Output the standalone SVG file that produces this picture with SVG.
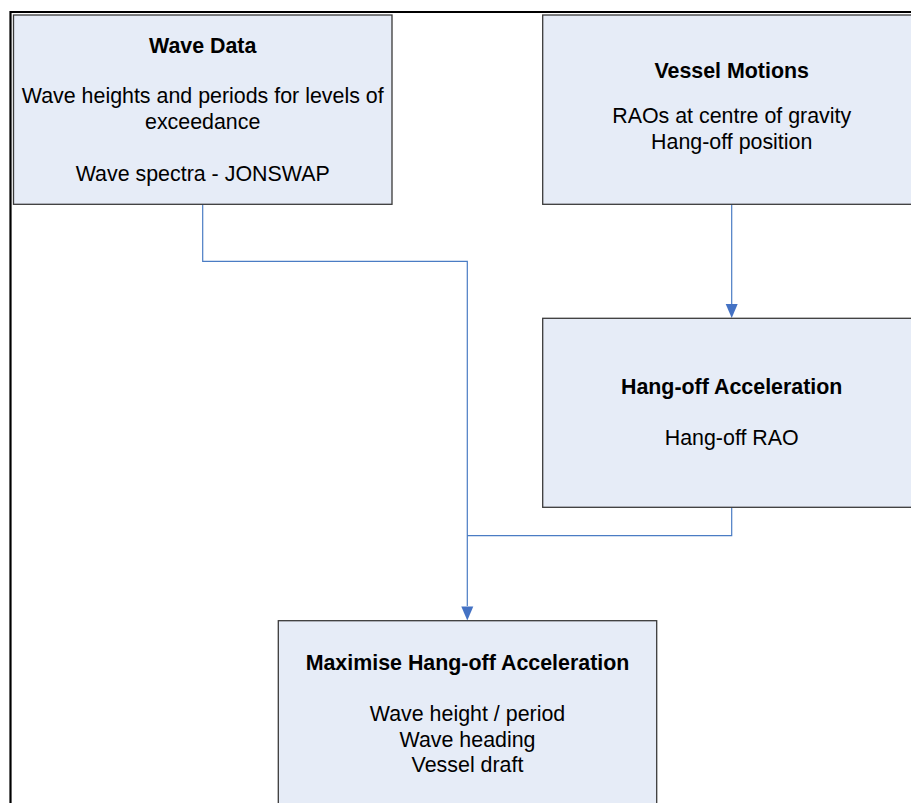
<svg xmlns="http://www.w3.org/2000/svg" width="911" height="803" viewBox="0 0 911 803">
<defs>
<style>
.box{fill:#e6ecf7;stroke:#3a3a3a;stroke-width:1.3}
.t{font-family:"Liberation Sans",Arial,sans-serif;font-size:21.4px;fill:#000;text-anchor:middle}
.b{font-weight:bold}
.c{fill:none;stroke:#4a7cc4;stroke-width:1.2}
.frame{fill:none;stroke:#000;stroke-width:2.2}
</style>
</defs>
<rect width="911" height="803" fill="#fff"/>
<path class="frame" d="M10.5,803 V12 H911"/>
<g id="connectors">
<path class="c" d="M202.7,204.5 V261.3 H467.3 V606"/>
<path class="c" d="M731.7,204.5 V304"/>
<path class="c" d="M731.7,507.5 V535.7 H467.3"/>
<path d="M461.3,606.5 L473.3,606.5 L467.3,620.5 Z" fill="#4472c4"/>
<path d="M725.7,304 L737.7,304 L731.7,318 Z" fill="#4472c4"/>
</g>
<g id="wave-data">
<rect class="box" x="13.5" y="15" width="378.5" height="189.3"/>
<text class="t b" x="202.7" y="52.5">Wave Data</text>
<text class="t" x="202.7" y="103.3">Wave heights and periods for levels of</text>
<text class="t" x="202.7" y="128.5">exceedance</text>
<text class="t" x="202.7" y="181">Wave spectra - JONSWAP</text>
</g>
<g id="vessel-motions">
<rect class="box" x="542.7" y="15" width="378" height="189.3"/>
<text class="t b" x="731.7" y="78.3">Vessel Motions</text>
<text class="t" x="731.7" y="123.3">RAOs at centre of gravity</text>
<text class="t" x="731.7" y="149">Hang-off position</text>
</g>
<g id="hang-off-acceleration">
<rect class="box" x="542.7" y="318.3" width="378" height="189"/>
<text class="t b" x="731.7" y="394">Hang-off Acceleration</text>
<text class="t" x="731.7" y="445">Hang-off RAO</text>
</g>
<g id="maximise-hang-off-acceleration">
<rect class="box" x="278.3" y="620.7" width="378.4" height="200"/>
<text class="t b" x="467.5" y="670">Maximise Hang-off Acceleration</text>
<text class="t" x="467.5" y="721">Wave height / period</text>
<text class="t" x="467.5" y="746.5">Wave heading</text>
<text class="t" x="467.5" y="772">Vessel draft</text>
</g>
</svg>
